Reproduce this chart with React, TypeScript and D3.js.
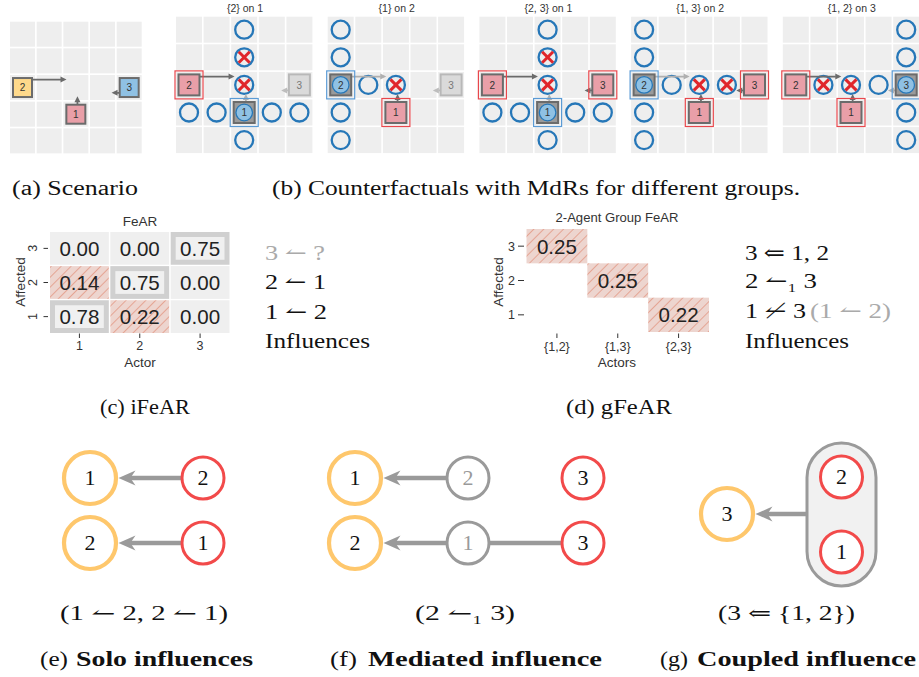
import React from 'react';
import * as d3 from 'd3';

// ---------- scenario data ----------
const GRID_N = 5;
const AGENT_IDS = [1, 2, 3];
const AGENT_COL = [2, 0, 4];
const AGENT_ROW = [3, 2, 2];
const AGENT_DX = [0, 1, -1];
const AGENT_DY = [-1, 0, 0];
const ARROW_LEN = [0.67, 1.65, 0.66];
const ARROW_OFF = [0.06, -0.3, -0.2];
const AGENT_FILL = ['#e99fa8', '#fed98b', '#8fc1e4'];

// ---------- counterfactual panels ----------
const PANEL_TITLES = ['{2} on 1', '{1} on 2', '{2, 3} on 1', '{1, 3} on 2', '{1, 2} on 3'];
const PANEL_ACTORS = [[2], [1], [2, 3], [1, 3], [1, 2]];
const PANEL_AFFECTED = [1, 2, 1, 2, 3];
const PANEL_MOVES = [
  [[2, 0], [2, 1], [2, 2], [0, 3], [1, 3], [3, 3], [4, 3], [2, 4]],
  [[0, 0], [0, 1], [1, 2], [2, 2], [0, 3], [0, 4]],
  [[2, 0], [2, 1], [2, 2], [0, 3], [1, 3], [3, 3], [4, 3], [2, 4]],
  [[0, 0], [0, 1], [1, 2], [2, 2], [3, 2], [0, 3], [0, 4]],
  [[4, 0], [4, 1], [1, 2], [2, 2], [3, 2], [4, 3], [4, 4]],
];
const PANEL_COLLISIONS = [
  [[2, 1], [2, 2]],
  [[2, 2]],
  [[2, 1], [2, 2]],
  [[2, 2], [3, 2]],
  [[1, 2], [2, 2]],
];

// ---------- iFeAR heatmap ----------
const ACTORS = ['1', '2', '3'];
const AFFECTED = ['3', '2', '1'];
const IFEAR = [
  [0.0, 0.0, 0.75],
  [0.14, 0.75, 0.0],
  [0.78, 0.22, 0.0],
];

// ---------- gFeAR ----------
const GROUPS = ['{1,2}', '{1,3}', '{2,3}'];
const G_AFFECTED = ['3', '2', '1'];
const G_GROUP = ['{1,2}', '{1,3}', '{2,3}'];
const G_VALUE = [0.25, 0.25, 0.22];

// ---------- influence texts ----------
const INFL_C = ['3 ↼ ?', '2 ↼ 1', '1 ↼ 2', 'Influences'];
const INFL_C_GRAY = [true, false, false, false];
const INFL_D = ['3 ⇐ 1, 2', '2 ↼₁ 3', '1 ↼\u0338 3', 'Influences'];

const SERIF = '"Liberation Serif", "DejaVu Serif", serif';
const SANS = '"Liberation Sans", Arial, sans-serif';

function Arrow({ x1, y1, x2, y2, color, w, head, hw, notch = 0 }: any) {
  const a = Math.atan2(y2 - y1, x2 - x1);
  const c = Math.cos(a), s = Math.sin(a);
  const bx = x2 - head * c, by = y2 - head * s;
  const ix = x2 - head * (1 - notch) * c, iy = y2 - head * (1 - notch) * s;
  const pts = [
    [x2, y2],
    [bx - hw * s, by + hw * c],
    [ix, iy],
    [bx + hw * s, by - hw * c],
  ];
  return (
    <g>
      <line x1={x1} y1={y1} x2={ix + 0.5 * c} y2={iy + 0.5 * s} stroke={color} strokeWidth={w} />
      <polygon points={pts.map((p) => p.join(',')).join(' ')} fill={color} />
    </g>
  );
}

function GridWorld({ x0, y0, pitch, cell, box, panel }: any) {
  const xs = d3.scaleLinear().domain([0, GRID_N]).range([x0, x0 + GRID_N * pitch]);
  const ys = d3.scaleLinear().domain([0, GRID_N]).range([y0, y0 + GRID_N * pitch]);
  const cx = (c: number) => xs(c) + cell / 2;
  const cy = (r: number) => ys(r) + cell / 2;
  const role = (id: number) =>
    panel === null ? 'scenario' : PANEL_ACTORS[panel].includes(id) ? 'actor' : PANEL_AFFECTED[panel] === id ? 'affected' : 'faded';
  const moves = panel === null ? [] : PANEL_MOVES[panel];
  const coll = panel === null ? [] : PANEL_COLLISIONS[panel];
  return (
    <g>
      {d3.range(GRID_N * GRID_N).map((k) => (
        <rect key={k} x={xs(k % GRID_N)} y={ys(Math.floor(k / GRID_N))} width={cell} height={cell} fill="#eeeeee" />
      ))}
      {moves.map(([c, r]: number[], k: number) => (
        <circle key={'m' + k} cx={cx(c)} cy={cy(r)} r={9} fill="none" stroke="#2677b8" strokeWidth={2.3} />
      ))}
      {AGENT_IDS.map((id, i) => {
        const rl = role(id);
        const px = -AGENT_DY[i], py = AGENT_DX[i];
        const ox = px * ARROW_OFF[i] * pitch, oy = py * ARROW_OFF[i] * pitch;
        const sx = cx(AGENT_COL[i]) + ox, sy = cy(AGENT_ROW[i]) + oy;
        const col = rl === 'affected' ? '#b0b0b0' : rl === 'faded' ? '#bdbdbd' : '#6b6b6b';
        return (
          <Arrow key={'a' + id} x1={sx} y1={sy} x2={sx + AGENT_DX[i] * ARROW_LEN[i] * pitch} y2={sy + AGENT_DY[i] * ARROW_LEN[i] * pitch}
            color={col} w={1.8} head={6} hw={3} />
        );
      })}
      {AGENT_IDS.map((id, i) => {
        const rl = role(id);
        const x = cx(AGENT_COL[i]), y = cy(AGENT_ROW[i]);
        const fill = rl === 'scenario' ? AGENT_FILL[i] : rl === 'actor' ? '#e99fa8' : rl === 'affected' ? '#9a9a9a' : '#dadada';
        const stroke = rl === 'faded' ? '#b8b8b8' : '#6b6b6b';
        return (
          <g key={'g' + id}>
            {rl === 'actor' && (
              <rect x={xs(AGENT_COL[i]) - 1} y={ys(AGENT_ROW[i]) - 1} width={cell + 2} height={cell + 2} fill="none" stroke="#e8474c" strokeWidth={1.2} />
            )}
            {rl === 'affected' && (
              <rect x={xs(AGENT_COL[i]) - 1} y={ys(AGENT_ROW[i]) - 1} width={cell + 2} height={cell + 2} fill="none" stroke="#5b9bd5" strokeWidth={1.2} />
            )}
            <rect x={x - box / 2} y={y - box / 2} width={box} height={box} fill={fill} stroke={stroke} strokeWidth={2} />
            {rl === 'affected' && <circle cx={x} cy={y} r={8.3} fill="#8fc1e4" stroke="#2677b8" strokeWidth={1.3} />}
            <text x={x} y={y + 3.6} textAnchor="middle" fontFamily={SANS} fontSize={10} fill={rl === 'faded' ? '#777' : '#333'}>
              {id}
            </text>
          </g>
        );
      })}
      {coll.map(([c, r]: number[], k: number) => (
        <g key={'x' + k} stroke="#e0262b" strokeWidth={3}>
          <line x1={cx(c) - 5.5} y1={cy(r) - 5.5} x2={cx(c) + 5.5} y2={cy(r) + 5.5} />
          <line x1={cx(c) - 5.5} y1={cy(r) + 5.5} x2={cx(c) + 5.5} y2={cy(r) - 5.5} />
        </g>
      ))}
      {panel !== null && (
        <text x={(xs(0) + xs(GRID_N)) / 2} y={y0 - 4.5} textAnchor="middle" fontFamily={SANS} fontSize={10.5} fill="#333">
          {PANEL_TITLES[panel]}
        </text>
      )}
    </g>
  );
}

function T({ x, y, len, size = 20, bold = false, fill = '#111', children, anchor = 'start', family = SERIF }: any) {
  return (
    <text x={x} y={y} fontFamily={family} fontSize={size} fontWeight={bold ? 'bold' : 'normal'} fill={fill}
      textAnchor={anchor} textLength={len} lengthAdjust={len ? 'spacingAndGlyphs' : undefined}>
      {children}
    </text>
  );
}

function Node({ x, y, label, kind }: any) {
  const r = kind === 'affected' ? 26 : 21;
  const stroke = kind === 'affected' ? '#fec76c' : kind === 'actor' ? '#f24a4a' : '#9a9a9a';
  const sw = kind === 'affected' ? 4.2 : 3;
  return (
    <g>
      <circle cx={x} cy={y} r={r} fill="#fff" stroke={stroke} strokeWidth={sw} />
      <text x={x} y={y + 7} textAnchor="middle" fontFamily={SERIF} fontSize={22} fill={kind === 'mediator' ? '#9a9a9a' : '#111'}>
        {label}
      </text>
    </g>
  );
}

function BigArrow({ x1, x2, y }: any) {
  return <Arrow x1={x1} y1={y} x2={x2} y2={y} color="#9a9a9a" w={4.5} head={17} hw={7.5} notch={0.3} />;
}

export default function App() {
  // iFeAR scales
  const hx = d3.scaleBand().domain(ACTORS).range([50, 229.5]).paddingInner(0.025);
  const hy = d3.scaleBand().domain(AFFECTED).range([232, 333]).paddingInner(0.04);
  // gFeAR scales
  const gx = d3.scaleBand().domain(GROUPS).range([526.5, 709]).paddingInner(0);
  const gy = d3.scaleBand().domain(G_AFFECTED).range([229, 332]).paddingInner(0);

  const panelX = d3.scaleLinear().domain([0, 1]).range([176, 327.7]);
  const rowE = d3.scalePoint().domain(['0', '1']).range([478, 543]);

  const E_AFFECTED = ['1', '2'];
  const E_ACTOR = ['2', '1'];
  const F_AFFECTED = ['1', '2'];
  const F_MEDIATOR = ['2', '1'];
  const F_SOURCE = ['3', '3'];
  const F_LINKED = [false, true];

  return (
    <svg width={919} height={677} style={{ position: 'absolute', left: 0, top: 0, background: '#fff' }}>
      <defs>
        <pattern id="hatch" patternUnits="userSpaceOnUse" width={7} height={7} patternTransform="rotate(45)">
          <rect width={7} height={7} fill="#edd5cf" />
          <line x1={0} y1={0} x2={0} y2={7} stroke="#e2917b" strokeWidth={1.4} />
        </pattern>
      </defs>
      <rect width={919} height={677} fill="#fff" />

      {/* (a) scenario */}
      <GridWorld x0={10} y0={21.7} pitch={26.67} cell={25} box={19} panel={null} />
      {/* (b) counterfactual panels */}
      {PANEL_TITLES.map((_, i) => (
        <GridWorld key={i} x0={panelX(i)} y0={16.7} pitch={27.6} cell={26} box={21} panel={i} />
      ))}

      <T x={12} y={195} len={126}>(a) Scenario</T>
      <T x={272} y={195} len={528}>(b) Counterfactuals with MdRs for different groups.</T>

      {/* (c) iFeAR heatmap */}
      {AFFECTED.map((af, ri) =>
        ACTORS.map((ac, ci) => {
          const v = IFEAR[ri][ci];
          const x = hx(ac)!, y = hy(af)!, w = hx.bandwidth(), h = hy.bandwidth();
          const diag = ac === af;
          const hatched = !diag && v > 0;
          return (
            <g key={af + ac}>
              <rect x={x} y={y} width={w} height={h} fill={diag ? '#d0d0d0' : hatched ? 'url(#hatch)' : '#efefef'} />
              {diag && <rect x={x + 5} y={y + 5} width={w - 10} height={h - 10} fill="#f0f0f0" />}
              <text x={x + w / 2} y={y + h / 2 + 7.5} textAnchor="middle" fontFamily={SANS} fontSize={21} fill="#222"
                textLength={40} lengthAdjust="spacingAndGlyphs">
                {v.toFixed(2)}
              </text>
            </g>
          );
        })
      )}
      <text x={140} y={226} textAnchor="middle" fontFamily={SANS} fontSize={13.5} fill="#333">FeAR</text>
      {ACTORS.map((ac) => (
        <g key={'xt' + ac}>
          <line x1={hx(ac)! + hx.bandwidth() / 2} x2={hx(ac)! + hx.bandwidth() / 2} y1={333.5} y2={338} stroke="#333" strokeWidth={1} />
          <text x={hx(ac)! + hx.bandwidth() / 2} y={350} textAnchor="middle" fontFamily={SANS} fontSize={12.5} fill="#333">{ac}</text>
        </g>
      ))}
      {AFFECTED.map((af) => {
        const yc = hy(af)! + hy.bandwidth() / 2;
        return (
          <g key={'yt' + af}>
            <line x1={43.5} x2={48} y1={yc} y2={yc} stroke="#333" strokeWidth={1} />
            <text transform={`translate(37,${yc}) rotate(-90)`} textAnchor="middle" fontFamily={SANS} fontSize={12.5} fill="#333">{af}</text>
          </g>
        );
      })}
      <text x={140} y={367} textAnchor="middle" fontFamily={SANS} fontSize={13.5} fill="#333">Actor</text>
      <text transform="translate(25,282) rotate(-90)" textAnchor="middle" fontFamily={SANS} fontSize={13.5} fill="#333">Affected</text>

      {INFL_C.map((s, i) => (
        <T key={'ic' + i} x={265} y={[260, 289, 319, 348][i]} size={21} fill={INFL_C_GRAY[i] ? '#aaaaaa' : '#111'}
          len={[60, 61, 62, 105][i]}>{s}</T>
      ))}
      <T x={100} y={414} len={90}>(c) iFeAR</T>

      {/* (d) gFeAR */}
      {G_VALUE.map((v, i) => {
        const x = gx(G_GROUP[i])!, y = gy(G_AFFECTED[i])!, w = gx.bandwidth(), h = gy.bandwidth();
        return (
          <g key={'gc' + i}>
            <rect x={x} y={y} width={w} height={h} fill="url(#hatch)" />
            <text x={x + w / 2} y={y + h / 2 + 7.5} textAnchor="middle" fontFamily={SANS} fontSize={21} fill="#222"
              textLength={40} lengthAdjust="spacingAndGlyphs">{v.toFixed(2)}</text>
          </g>
        );
      })}
      <text x={617} y={222} textAnchor="middle" fontFamily={SANS} fontSize={13.5} fill="#333" textLength={123} lengthAdjust="spacingAndGlyphs">2-Agent Group FeAR</text>
      {GROUPS.map((g) => {
        const xc = gx(g)! + gx.bandwidth() / 2;
        return (
          <g key={'gxt' + g}>
            <line x1={xc} x2={xc} y1={333.5} y2={338} stroke="#333" strokeWidth={1} />
            <text x={xc} y={351} textAnchor="middle" fontFamily={SANS} fontSize={12.5} fill="#333">{g}</text>
          </g>
        );
      })}
      {G_AFFECTED.map((af) => {
        const yc = gy(af)! + gy.bandwidth() / 2;
        return (
          <g key={'gyt' + af}>
            <line x1={518} x2={524} y1={yc} y2={yc} stroke="#333" strokeWidth={1} />
            <text x={511.5} y={yc + 4.5} textAnchor="middle" fontFamily={SANS} fontSize={12.5} fill="#333">{af}</text>
          </g>
        );
      })}
      <text x={617} y={367} textAnchor="middle" fontFamily={SANS} fontSize={13.5} fill="#333">Actors</text>
      <text transform="translate(503,282) rotate(-90)" textAnchor="middle" fontFamily={SANS} fontSize={13.5} fill="#333">Affected</text>

      <T x={745} y={260} size={21} len={84}>{INFL_D[0]}</T>
      <T x={745} y={288} size={21} len={72}>{INFL_D[1]}</T>
      <T x={745} y={318} size={21} len={61}>{INFL_D[2]}</T>
      <T x={810} y={318} size={21} len={81} fill="#aaaaaa">(1 ↼ 2)</T>
      <T x={745} y={348} size={21} len={104}>{INFL_D[3]}</T>
      <T x={566} y={414} len={106}>(d) gFeAR</T>

      {/* (e) solo influences */}
      {E_AFFECTED.map((a, i) => {
        const y = rowE(String(i))!;
        return (
          <g key={'e' + i}>
            <BigArrow x1={203 - 22} x2={90 + 28.5} y={y} />
            <Node x={90} y={y} label={a} kind="affected" />
            <Node x={203} y={y} label={E_ACTOR[i]} kind="actor" />
          </g>
        );
      })}
      <T x={60} y={620} len={168}>(1 ↼ 2, 2 ↼ 1)</T>
      <T x={40} y={666} len={28}>(e)</T>
      <T x={76} y={666} len={177} bold>Solo influences</T>

      {/* (f) mediated influence */}
      {F_AFFECTED.map((a, i) => {
        const y = rowE(String(i))!;
        return (
          <g key={'f' + i}>
            {F_LINKED[i] && <line x1={583 - 21} x2={468 + 21} y1={y} y2={y} stroke="#9a9a9a" strokeWidth={4.5} />}
            <BigArrow x1={468 - 22} x2={355 + 28.5} y={y} />
            <Node x={355} y={y} label={a} kind="affected" />
            <Node x={468} y={y} label={F_MEDIATOR[i]} kind="mediator" />
            <Node x={583} y={y} label={F_SOURCE[i]} kind="actor" />
          </g>
        );
      })}
      <T x={415} y={620} len={100}>(2 ↼₁ 3)</T>
      <T x={330} y={666} len={27}>(f)</T>
      <T x={368} y={666} len={234} bold>Mediated influence</T>

      {/* (g) coupled influence */}
      <BigArrow x1={808} x2={727 + 28.5} y={514} />
      <rect x={807} y={443} width={69} height={143} rx={34.5} ry={34.5} fill="#f1f1f1" stroke="#9a9a9a" strokeWidth={3} />
      <Node x={727} y={514} label="3" kind="affected" />
      <Node x={841.5} y={477} label="2" kind="actor" />
      <Node x={841.5} y={552} label="1" kind="actor" />
      <T x={718} y={620} len={137}>(3 ⇐ {'{'}1, 2{'}'})</T>
      <T x={660} y={666} len={28}>(g)</T>
      <T x={697} y={666} len={219} bold>Coupled influence</T>
    </svg>
  );
}
